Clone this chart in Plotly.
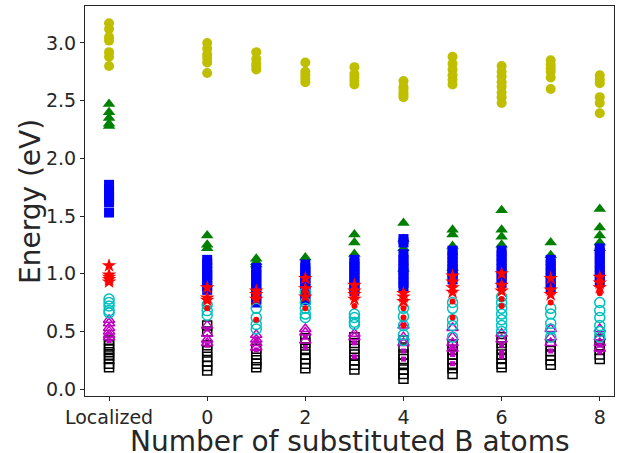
import plotly.graph_objects as go

# x positions: "Localized" placed at -2, then 0..8 substituted B atoms
columns = [-2, 0, 1, 2, 3, 4, 5, 6, 7, 8]
tick_vals = [-2, 0, 2, 4, 6, 8]
tick_text = ["Localized", "0", "2", "4", "6", "8"]
y_ticks = [0.0, 0.5, 1.0, 1.5, 2.0, 2.5, 3.0]

yellow_circles = [
    [3.17, 3.12, 3.05, 3.02, 2.92, 2.88, 2.80],
    [3.00, 2.95, 2.90, 2.87, 2.83, 2.74],
    [2.92, 2.86, 2.82, 2.80, 2.77],
    [2.83, 2.75, 2.72, 2.69, 2.66],
    [2.79, 2.73, 2.70, 2.67, 2.64],
    [2.67, 2.62, 2.60, 2.57, 2.55, 2.53],
    [2.88, 2.82, 2.77, 2.72, 2.68, 2.64],
    [2.80, 2.75, 2.71, 2.66, 2.62, 2.57, 2.53, 2.48],
    [2.85, 2.81, 2.78, 2.75, 2.70, 2.60],
    [2.72, 2.68, 2.65, 2.53, 2.48, 2.39],
]
green_triangles = [
    [2.47, 2.40, 2.35, 2.30, 2.28],
    [1.33, 1.25, 1.22],
    [1.13, 1.10, 1.08],
    [1.14],
    [1.34, 1.27, 1.17],
    [1.44, 1.30, 1.22, 1.04],
    [1.38, 1.34, 1.24, 1.05],
    [1.55, 1.38, 1.32, 1.25],
    [1.27, 1.16],
    [1.56, 1.40, 1.33, 1.27, 1.22],
]
blue_squares = [
    [1.77, 1.73, 1.70, 1.67, 1.64, 1.62, 1.53],
    [1.12, 1.09, 1.05, 1.02, 0.99, 0.96, 0.93, 0.89, 0.86],
    [1.05, 1.02, 0.99, 0.96, 0.93, 0.90, 0.87, 0.84, 0.81, 0.78, 0.75],
    [1.08, 1.05, 1.02, 0.99, 0.96, 0.93, 0.90, 0.87, 0.84, 0.80, 0.77],
    [1.12, 1.09, 1.06, 1.03, 1.00, 0.97, 0.94, 0.91, 0.88, 0.85],
    [1.30, 1.27, 1.17, 1.12, 1.08, 1.04, 1.00, 0.96, 0.92, 0.88],
    [1.20, 1.17, 1.14, 1.10, 1.07, 1.04, 1.01, 0.98, 0.95],
    [1.20, 1.16, 1.12, 1.08, 1.04, 1.00, 0.96, 0.92],
    [1.12, 1.08, 1.04, 1.00, 0.96, 0.92, 0.88],
    [1.22, 1.18, 1.14, 1.10, 1.06, 1.02, 0.98, 0.93],
]
red_stars = [
    [1.07, 0.99, 0.97, 0.95, 0.93],
    [0.88, 0.79, 0.77],
    [0.85, 0.82, 0.78],
    [0.96, 0.87, 0.80],
    [0.90, 0.85, 0.82, 0.78],
    [0.83, 0.80, 0.76],
    [0.98, 0.93, 0.88, 0.84],
    [1.00, 0.90, 0.85],
    [0.96, 0.86, 0.82],
    [0.97, 0.92, 0.88],
]
red_dots = [
    [0.96, 0.94],
    [0.70],
    [0.60],
    [0.70],
    [0.72],
    [0.70, 0.62, 0.55],
    [0.76, 0.62],
    [0.78, 0.72],
    [0.75],
    [0.83],
]
cyan_circles = [
    [0.78, 0.75, 0.72, 0.68, 0.66],
    [0.73, 0.68, 0.64],
    [0.70, 0.62, 0.56, 0.52],
    [0.84, 0.75, 0.70, 0.65, 0.62],
    [0.65, 0.62, 0.58, 0.56],
    [0.70, 0.63, 0.55, 0.47, 0.42],
    [0.75, 0.70, 0.60, 0.55, 0.45],
    [0.80, 0.75, 0.70, 0.65, 0.60, 0.55, 0.50],
    [0.70, 0.65, 0.57, 0.52, 0.45],
    [0.75, 0.68, 0.62, 0.55, 0.50, 0.45],
]
magenta_triangles = [
    [0.60, 0.57, 0.53, 0.50, 0.47, 0.45],
    [0.55, 0.48, 0.43, 0.40],
    [0.47, 0.43, 0.40, 0.36],
    [0.52, 0.49, 0.42],
    [0.48, 0.45],
    [0.55, 0.45, 0.40],
    [0.53, 0.45, 0.40, 0.35],
    [0.48, 0.43],
    [0.52, 0.45, 0.40],
    [0.52, 0.45, 0.40, 0.35],
]
magenta_dots = [
    [0.42],
    [0.52, 0.38],
    [0.42, 0.34],
    [0.45, 0.36],
    [0.40, 0.28],
    [0.33, 0.26],
    [0.36, 0.30, 0.22],
    [0.38, 0.32, 0.28],
    [0.33],
    [0.38, 0.32],
]
black_squares = [
    [0.42, 0.38, 0.35, 0.32, 0.29, 0.26, 0.22, 0.19],
    [0.55, 0.50, 0.38, 0.33, 0.28, 0.24, 0.20, 0.16],
    [0.35, 0.30, 0.25, 0.22, 0.19],
    [0.44, 0.40, 0.35, 0.30, 0.26, 0.22, 0.18],
    [0.45, 0.40, 0.35, 0.30, 0.25, 0.21, 0.17],
    [0.42, 0.36, 0.30, 0.26, 0.22, 0.17, 0.13, 0.09],
    [0.38, 0.34, 0.30, 0.26, 0.22, 0.18, 0.13],
    [0.45, 0.40, 0.35, 0.30, 0.26, 0.22, 0.19],
    [0.38, 0.33, 0.29, 0.25, 0.21],
    [0.43, 0.38, 0.34, 0.30, 0.26],
]


def flatten(groups):
    xs, ys = [], []
    for xc, vals in zip(columns, groups):
        xs.extend([xc] * len(vals))
        ys.extend(vals)
    return xs, ys


series = [
    (yellow_circles, dict(symbol="circle", size=10, color="#bfbf00", line=dict(width=0))),
    (green_triangles, dict(symbol="triangle-up", size=11, color="#008000", line=dict(width=0))),
    (blue_squares, dict(symbol="square", size=10, color="#0000ff", line=dict(width=0))),
    (black_squares, dict(symbol="square-open", size=9, color="black", line=dict(width=1.5))),
    (magenta_triangles, dict(symbol="triangle-up-open", size=10, color="#bf00bf", line=dict(width=1.5))),
    (magenta_dots, dict(symbol="square", size=5, color="#bf00bf", line=dict(width=0))),
    (cyan_circles, dict(symbol="circle-open", size=10, color="#00bfbf", line=dict(width=1.5))),
    (red_dots, dict(symbol="circle", size=6, color="#ff0000", line=dict(width=0))),
    (red_stars, dict(symbol="star", size=11, color="#ff0000", line=dict(width=0))),
]

fig = go.Figure()
for groups, marker in series:
    xs, ys = flatten(groups)
    fig.add_trace(go.Scatter(x=xs, y=ys, mode="markers", marker=marker,
                             showlegend=False, hoverinfo="y", cliponaxis=True))

axis_common = dict(
    showgrid=False, zeroline=False, showline=True, linecolor="#262626",
    linewidth=1, mirror=True, ticks="outside", ticklen=4, tickwidth=1,
    tickcolor="#262626", automargin=False,
    tickfont=dict(family="DejaVu Sans", size=19, color="#262626"),
)

fig.update_layout(
    width=618, height=453,
    margin=dict(l=85, r=4, t=6, b=57),
    paper_bgcolor="white", plot_bgcolor="white",
    font=dict(family="DejaVu Sans", color="#262626"),
    xaxis=dict(range=[-2.49, 8.29], tickvals=tick_vals, ticktext=tick_text,
               **axis_common),
    yaxis=dict(range=[-0.06, 3.32], tickvals=y_ticks, tickformat=".1f",
               **axis_common),
    annotations=[
        dict(text="Number of substituted B atoms", xref="paper", yref="paper",
             x=0.5, y=-0.116, xanchor="center", yanchor="middle", showarrow=False,
             font=dict(family="DejaVu Sans", size=28, color="#262626")),
        dict(text="Energy (eV)", xref="paper", yref="paper",
             x=-0.104, y=0.5, xanchor="center", yanchor="middle", showarrow=False,
             textangle=-90,
             font=dict(family="DejaVu Sans", size=28, color="#262626")),
    ],
)

fig.write_html("out.html", config={"displayModeBar": False},
               post_script="document.body.style.margin='0';document.body.style.padding='0';")
